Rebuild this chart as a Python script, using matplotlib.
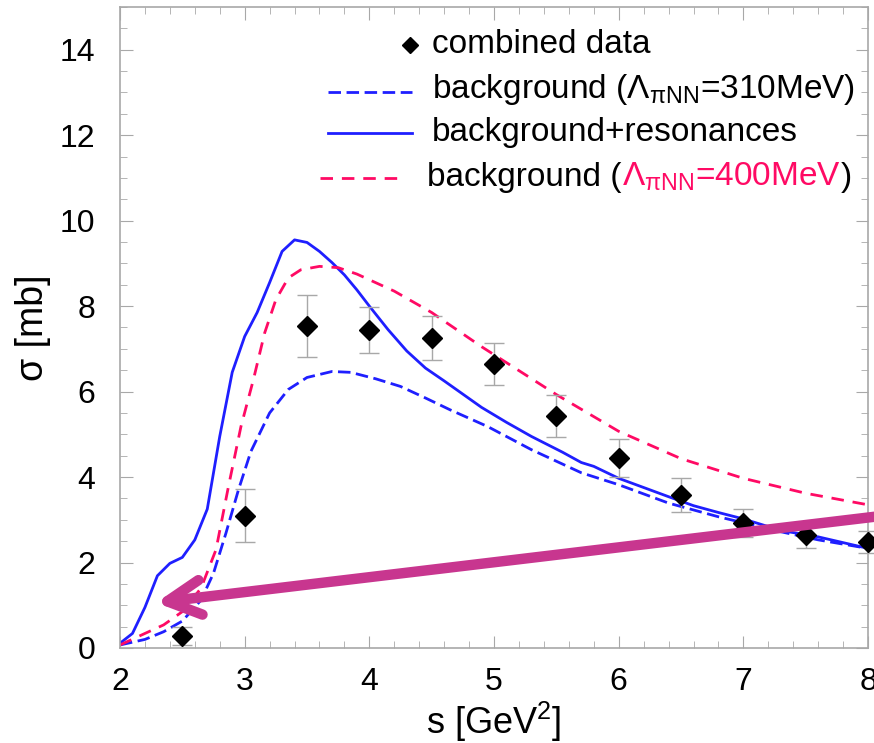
import numpy as np
import matplotlib
matplotlib.use("Agg")
import matplotlib.pyplot as plt
from matplotlib.lines import Line2D

plt.rcParams['font.family'] = ['Liberation Sans', 'DejaVu Sans']
plt.rcParams['mathtext.fontset'] = 'custom'
plt.rcParams['mathtext.rm'] = 'Liberation Sans'
plt.rcParams['mathtext.it'] = 'Liberation Sans'

# data points
s_data = [2.5, 3.0, 3.5, 4.0, 4.5, 5.0, 5.5, 6.0, 6.5, 7.0, 7.5, 8.0]
sig_data = [0.28, 3.09, 7.54, 7.45, 7.26, 6.65, 5.43, 4.45, 3.58, 2.93, 2.65, 2.48]
sig_err = [0.20, 0.62, 0.72, 0.54, 0.52, 0.49, 0.49, 0.45, 0.39, 0.33, 0.30, 0.25]

# background + resonances
s_res = [2.0, 2.1, 2.2, 2.3, 2.4, 2.5, 2.6, 2.7, 2.8, 2.9, 3.0, 3.1, 3.2, 3.3,
         3.4, 3.5, 3.6, 3.7, 3.8, 3.9, 4.0, 4.15, 4.3, 4.45, 4.6, 4.9, 5.1,
         5.3, 5.55, 5.7, 5.8, 6.0, 6.4, 6.6, 6.8, 7.0, 7.3, 7.6, 8.0]
sig_res = [0.11, 0.34, 0.95, 1.69, 1.98, 2.12, 2.53, 3.25, 4.95, 6.45, 7.29,
           7.85, 8.55, 9.28, 9.55, 9.49, 9.28, 9.02, 8.73, 8.38, 8.00, 7.45,
           6.95, 6.55, 6.25, 5.63, 5.28, 4.95, 4.58, 4.34, 4.25, 3.97, 3.54,
           3.33, 3.17, 3.02, 2.75, 2.60, 2.33]

# background, Lambda = 310 MeV
s_310 = [2.0, 2.2, 2.35, 2.5, 2.65, 2.75, 2.85, 2.95, 3.05, 3.2, 3.35, 3.5,
         3.7, 3.85, 4.05, 4.25, 4.45, 4.65, 4.95, 5.3, 5.7, 6.0, 6.4, 6.8,
         7.3, 7.6, 8.0]
sig_310 = [0.07, 0.20, 0.38, 0.63, 1.12, 1.75, 2.69, 3.70, 4.60, 5.50, 6.05,
           6.33, 6.47, 6.45, 6.30, 6.12, 5.85, 5.57, 5.18, 4.64, 4.10, 3.82,
           3.39, 3.07, 2.72, 2.53, 2.33]

# background, Lambda = 400 MeV
s_400 = [2.0, 2.2, 2.35, 2.5, 2.65, 2.77, 2.87, 2.97, 3.07, 3.16, 3.25, 3.35,
         3.45, 3.6, 3.75, 3.9, 4.2, 4.5, 4.9, 5.5, 6.0, 6.5, 7.0, 7.5, 8.0]
sig_400 = [0.07, 0.34, 0.54, 0.85, 1.40, 2.30, 3.78, 5.18, 6.28, 7.37, 8.15,
           8.66, 8.85, 8.93, 8.90, 8.75, 8.35, 7.85, 7.05, 5.93, 5.07, 4.43,
           3.97, 3.62, 3.35]

blue = '#1f1fff'
red = '#ff0a64'
arrow_col = '#c8368f'
grey = '#a8a8a8'

fig = plt.figure(figsize=(8.74, 7.43), dpi=100)
ax = fig.add_axes([0.1373, 0.1279, 0.8559, 0.8627])

ax.plot(s_310, sig_310, color=blue, lw=2, dashes=(4.5, 2))
ax.plot(s_res, sig_res, color=blue, lw=2)
ax.plot(s_400, sig_400, color=red, lw=2, dashes=(4.5, 3.2))
ax.errorbar(s_data, sig_data, yerr=sig_err, fmt='D', color='black',
            markersize=10.5, ecolor=grey, elinewidth=1, capsize=7, capthick=1,
            zorder=5, clip_on=False)

ax.annotate('', xy=(2.29, 1.06), xytext=(8.05, 3.07),
            arrowprops=dict(arrowstyle='->,head_length=2.4,head_width=1.25',
                            color=arrow_col, lw=7.5, shrinkA=0, shrinkB=0,
                            capstyle='round', joinstyle='round'),
            annotation_clip=False, zorder=6)

ax.set_xlim(2, 8)
ax.set_ylim(0, 15)
ax.set_xticks(range(2, 9))
ax.set_yticks(range(0, 15, 2))
ax.set_xticks(np.arange(2, 8.01, 0.2), minor=True)
ax.set_yticks(np.arange(0, 15.01, 0.5), minor=True)
ax.tick_params(which='both', direction='in', top=True, right=True,
               color=grey, labelsize=23)
ax.tick_params(axis='y', pad=18)
ax.tick_params(axis='x', pad=14)
ax.tick_params(which='major', length=9)
ax.tick_params(which='minor', length=5)
for sp in ax.spines.values():
    sp.set_color(grey)
    sp.set_linewidth(1.2)

ax.set_xlabel('s [GeV$^2$]', fontsize=26, labelpad=2)
ax.set_ylabel('σ [mb]', fontsize=27, labelpad=6)

# legend drawn by hand
def ax_x(px):
    return (px - 120) / 748.0

def ax_y(py):
    return (648 - py) / 641.0

fs = 24
ax.plot([ax_x(410)], [ax_y(45)], 'D', color='black', markersize=8,
        transform=ax.transAxes, clip_on=False)
ax.add_line(Line2D([ax_x(328), ax_x(412)], [ax_y(92)] * 2, color=blue, lw=2,
                   dashes=(4.5, 2), transform=ax.transAxes))
ax.add_line(Line2D([ax_x(328), ax_x(412)], [ax_y(133)] * 2, color=blue, lw=2,
                   transform=ax.transAxes))
ax.add_line(Line2D([ax_x(320), ax_x(404)], [ax_y(178)] * 2, color=red, lw=2,
                   dashes=(4.5, 3.2), transform=ax.transAxes))

lam = r'$\Lambda_{\pi\mathrm{NN}}$'
ax.text(ax_x(432), ax_y(45), 'combined data', fontsize=fs,
        transform=ax.transAxes, va='center')
ax.text(ax_x(432), ax_y(90), 'background (' + lam + '=310MeV)', fontsize=fs,
        transform=ax.transAxes, va='center')
ax.text(ax_x(432), ax_y(133), 'background+resonances', fontsize=fs,
        transform=ax.transAxes, va='center')
t1 = ax.text(ax_x(427), ax_y(186), 'background (', fontsize=fs,
             transform=ax.transAxes, va='baseline')
t2 = ax.annotate(lam + '=400MeV', xycoords=t1, xy=(1, 0), fontsize=fs,
                 color=red, va='bottom')
ax.annotate(')', xycoords=t2, xy=(1, 0), fontsize=fs, va='bottom')

fig.savefig('out.png', dpi=100)
